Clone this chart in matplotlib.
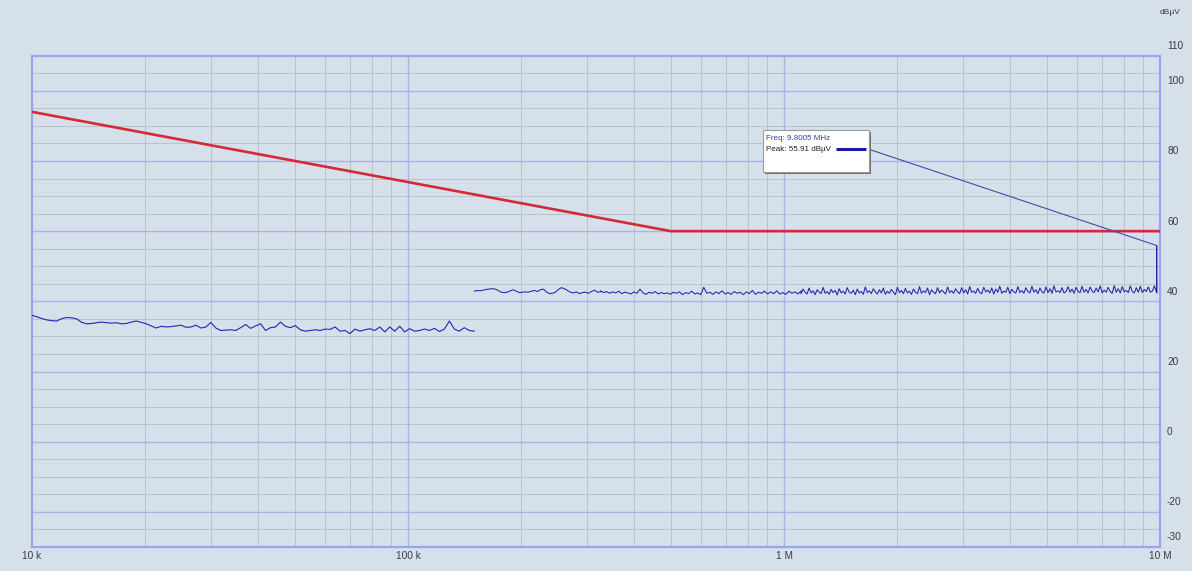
import numpy as np
import matplotlib
matplotlib.use("Agg")
import matplotlib.pyplot as plt
from matplotlib.transforms import blended_transform_factory, offset_copy
from matplotlib.patches import Rectangle

# Limit line corner points (frequency in Hz, level in dBuV)
limit_freq = [10e3, 500e3, 10e6]
limit_db = [94.0, 60.0, 60.0]

# Scan 1: 10 kHz - 150 kHz
band1_start, band1_stop = 10e3, 150e3
band1_db = [
    36.0, 35.6, 35.1, 34.7, 34.5, 34.4, 35.1, 35.4, 35.3, 35.0,
    34.0, 33.6, 33.7, 33.9, 34.1, 33.9, 33.8, 33.9, 33.6, 33.7,
    34.1, 34.4, 34.0, 33.6, 33.0, 32.4, 32.9, 32.7, 32.8, 33.0,
    33.2, 32.6, 32.7, 33.2, 32.4, 32.7, 34.0, 32.4, 31.7, 31.8,
    31.9, 31.7, 32.5, 33.4, 32.3, 33.0, 33.6, 31.7, 32.5, 32.7,
    34.1, 32.9, 32.5, 33.1, 31.9, 31.5, 31.7, 31.9, 31.7, 32.1,
    32.0, 32.7, 31.5, 31.7, 30.8, 32.1, 31.5, 31.9, 32.2, 31.7,
    32.7, 31.3, 32.7, 31.5, 32.9, 31.3, 32.2, 31.5, 31.7, 32.1,
    31.7, 32.3, 31.4, 32.1, 34.4, 32.1, 31.5, 32.5, 31.7, 31.5,
]

# Scan 2: 150 kHz - 10 MHz, stored in three sub-ranges
band2_edges = [150e3, 325e3, 1.11e6, 9.78e6]
band2_low_db = [
    42.9, 43.1, 43.0, 43.2, 43.4, 43.5, 43.6, 43.5, 43.1, 42.6,
    42.5, 42.6, 43.0, 43.3, 42.9, 42.5, 42.6, 42.7, 42.6, 42.9,
    43.1, 42.8, 43.3, 43.5, 42.7, 42.2, 42.3, 42.6, 43.4, 43.9,
    43.6, 43.1, 42.6, 42.4, 42.7, 42.2, 42.5, 42.6, 42.3, 42.8,
    43.2, 42.6, 42.7,
]
band2_mid_db = [
    43.0, 42.5, 42.8, 42.3, 42.7, 42.4, 42.9, 42.2, 42.6, 42.4,
    42.1, 42.7, 42.3, 43.5, 42.4, 42.0, 42.6, 42.3, 42.8, 42.1,
    42.5, 42.2, 42.4, 42.0, 42.6, 42.3, 42.7, 41.9, 42.5, 42.2,
    42.9, 42.1, 42.4, 41.9, 44.0, 42.3, 42.6, 42.0, 42.7, 42.2,
    43.0, 42.1, 42.5, 42.0, 42.8, 42.3, 42.6, 41.9, 42.7, 42.2,
    43.1, 42.0, 42.6, 42.3, 42.9, 42.1, 42.7, 42.2, 43.0, 42.1,
    42.5, 42.0, 42.9, 42.3, 42.7, 42.1, 43.0,
]
band2_high_db = [
    42.2, 43.5, 42.6, 42.1, 43.8, 42.4, 43.0, 41.9, 43.3, 42.7,
    42.2, 44.0, 42.3, 42.8, 42.0, 43.4, 42.5, 43.1, 41.8, 43.6,
    42.4, 42.9, 42.1, 43.9, 42.6, 42.3, 43.2, 41.9, 43.5, 42.4,
    42.8, 42.0, 44.1, 42.5, 43.0, 42.2, 43.6, 42.7, 42.1, 43.3,
    42.4, 43.8, 42.0, 42.9, 42.3, 43.4, 42.6, 41.9, 44.0, 42.5,
    43.1, 42.2, 43.7, 42.4, 42.9, 42.0, 43.5, 42.6, 42.2, 44.2,
    42.3, 43.0, 42.5, 43.8, 41.9, 43.3, 42.6, 42.2, 43.9, 42.4,
    43.2, 42.7, 42.1, 44.1, 42.5, 43.0, 42.3, 43.6, 42.7, 42.2,
    43.9, 42.4, 43.3, 42.1, 44.2, 42.6, 42.9, 42.3, 43.7, 42.5,
    42.2, 44.0, 42.7, 43.2, 42.4, 43.8, 42.1, 43.5, 42.6, 44.3,
    42.3, 42.9, 42.6, 44.0, 42.2, 43.4, 42.7, 42.4, 44.2, 42.5,
    43.1, 42.3, 43.9, 42.8, 42.4, 44.3, 42.6, 43.3, 42.2, 43.8,
    42.7, 42.4, 44.1, 42.5, 43.6, 42.3, 44.4, 42.7, 43.0, 42.5,
    43.9, 42.4, 42.8, 44.2, 42.6, 43.5, 42.3, 44.0, 42.8, 42.5,
    44.3, 42.6, 43.4, 42.4, 44.1, 42.9, 42.5, 43.8, 42.7, 44.4,
    42.4, 43.2, 42.6, 44.0, 42.8, 42.3, 44.5, 42.6, 43.6, 42.4,
    44.2, 42.7, 43.1, 42.5, 44.4, 42.8, 42.4, 43.9, 42.6, 44.3,
    42.5, 43.4, 42.8, 44.1, 42.6, 42.9, 44.4, 42.7,
]
peak_freq = [9.79e6, 9.795e6, 9.8005e6, 9.81e6]
peak_db = [42.6, 48.5, 55.91, 42.4]

marker_freq = 9.8005e6
marker_db = 55.91

x_ticks = [1e4, 1e5, 1e6, 1e7]
x_labels = ["10 k", "100 k", "1 M", "10 M"]
y_ticks = [-30, -20, 0, 20, 40, 60, 80, 100, 110]

bg = "#d6e0ea"
grid_minor = "#bcc2ca"
grid_major = "#a9b3e6"
frame = "#9ba5ec"
trace_col = "#2424b0"
limit_col = "#d42a36"
txt_col = "#3c3c3c"
font = ["Liberation Sans Narrow", "Liberation Sans", "DejaVu Sans"]

fig = plt.figure(figsize=(11.92, 5.71), dpi=100)
fig.patch.set_facecolor(bg)
ax = fig.add_axes([32 / 1192, 24 / 571, 1128 / 1192, 491.3 / 571])
ax.set_facecolor(bg)
ax.set_xscale("log")
ax.set_xlim(1e4, 1e7)
ax.set_ylim(-30, 110)
ax.set_xticks([])
ax.set_yticks([])
ax.minorticks_off()
ax.tick_params(which="both", length=0, labelleft=False, labelbottom=False)
for s in ax.spines.values():
    s.set_color(frame)
    s.set_linewidth(1.6)

# grid
for dec in [1e4, 1e5, 1e6]:
    for k in range(2, 10):
        ax.axvline(k * dec, color=grid_minor, lw=0.7, zorder=1)
for dec in [1e5, 1e6]:
    ax.axvline(dec, color=grid_major, lw=1.0, zorder=1.2)
for v in range(-25, 110, 5):
    if v % 20 == 0:
        ax.axhline(v, color=grid_major, lw=1.0, zorder=1.2)
    else:
        ax.axhline(v, color=grid_minor, lw=0.7, zorder=1)

# limit line
ax.plot(limit_freq, limit_db, color=limit_col, lw=1.9, zorder=4,
        solid_capstyle="butt")

# measurement traces
f1 = np.geomspace(band1_start, band1_stop, len(band1_db))
ax.plot(f1, band1_db, color=trace_col, lw=0.8, zorder=3)

segments = [band2_low_db, band2_mid_db, band2_high_db]
f2 = np.concatenate([
    np.geomspace(band2_edges[i], band2_edges[i + 1], len(seg))
    for i, seg in enumerate(segments)
])
band2_db = band2_low_db + band2_mid_db + band2_high_db
ax.plot(np.concatenate([f2, peak_freq]), band2_db + peak_db,
        color=trace_col, lw=0.75, zorder=3)

# axis labels
tx = blended_transform_factory(ax.transData, ax.transAxes)
tx = offset_copy(tx, fig=fig, x=0, y=-9, units="dots")
for f, lab in zip(x_ticks, x_labels):
    ax.text(f, 0, lab, transform=tx, ha="center", va="center",
            fontsize=7.3, color=txt_col, family=font, clip_on=False)
ty = blended_transform_factory(ax.transAxes, ax.transData)
ty = offset_copy(ty, fig=fig, x=7, y=9.5, units="dots")
for v in y_ticks:
    ax.text(1.0, v, str(v), transform=ty, ha="left", va="center",
            fontsize=7.3, color=txt_col, family=font, clip_on=False)
fig.text(1170 / 1192, 1 - 13 / 571, "dBµV", ha="center", va="center",
         fontsize=6, color=txt_col, family=font)

# marker readout box
bx0, bx1 = (763 - 32) / 1128, (869 - 32) / 1128
by0, by1 = (547 - 172) / 491.3, (547 - 130) / 491.3
shadow = Rectangle((bx0, by0), bx1 - bx0, by1 - by0, transform=offset_copy(
    ax.transAxes, fig=fig, x=2, y=-2, units="dots"),
    facecolor="#707070", edgecolor="none", zorder=6, clip_on=False)
ax.add_patch(shadow)
box = Rectangle((bx0, by0), bx1 - bx0, by1 - by0, transform=ax.transAxes,
                facecolor="white", edgecolor="#9a9a9a", lw=0.8, zorder=7,
                clip_on=False)
ax.add_patch(box)
ax.text((766 - 32) / 1128, (547 - 138) / 491.3,
        f"Freq: {marker_freq / 1e6:.4f} MHz", transform=ax.transAxes,
        ha="left", va="center", fontsize=5.8, color="#3a3a9a",
        family=font, zorder=8)
ax.text((766 - 32) / 1128, (547 - 149.3) / 491.3,
        f"Peak: {marker_db:.2f} dBµV", transform=ax.transAxes,
        ha="left", va="center", fontsize=5.8, color="#222222",
        family=font, zorder=8)
ly = (547 - 149.3) / 491.3
ax.plot([(836 - 32) / 1128, (866 - 32) / 1128], [ly, ly],
        transform=ax.transAxes, color="#1a1aa8", lw=2.2, zorder=8,
        solid_capstyle="butt")
ax.annotate("", xy=(marker_freq, marker_db), xycoords="data",
            xytext=(bx1, ly), textcoords="axes fraction",
            arrowprops=dict(arrowstyle="-", color="#3a4cb4", lw=0.8,
                            shrinkA=0, shrinkB=0), zorder=5)

fig.savefig("out.png", dpi=100, facecolor=bg)
